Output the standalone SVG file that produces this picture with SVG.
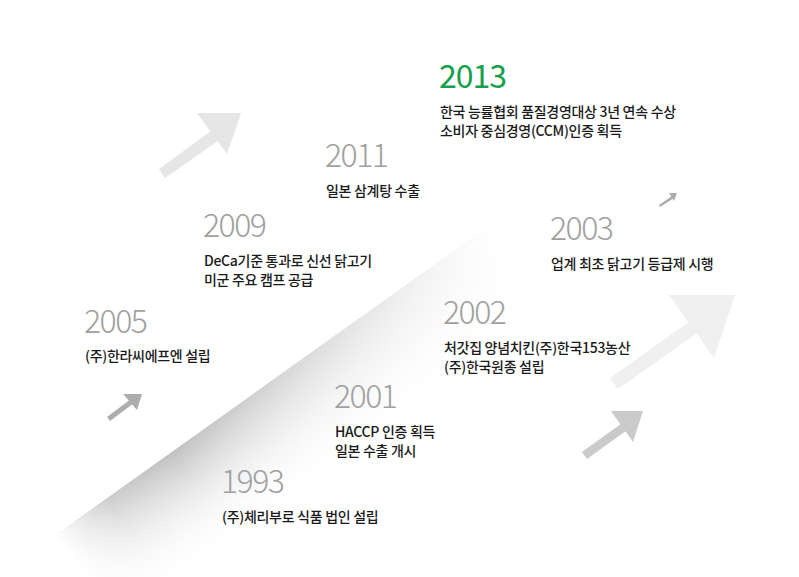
<svg xmlns="http://www.w3.org/2000/svg" width="799" height="577" viewBox="0 0 799 577">
<style>
.yr{font-family:"Noto Sans CJK KR","Noto Sans",sans-serif;font-size:32px;font-weight:200;fill:#a0a0a0;letter-spacing:-1.5px}
.yr13{font-family:"Noto Sans CJK KR","Noto Sans",sans-serif;font-size:32px;font-weight:400;fill:#17a04a;letter-spacing:-1px}
.ds{font-family:"Noto Sans CJK KR","Noto Sans",sans-serif;font-size:14px;font-weight:500;fill:#1a1a1a;letter-spacing:-0.3px}
</style>
<defs>
<linearGradient id="bandFill" x1="0" y1="0" x2="0" y2="1">
<stop offset="0" stop-color="#c0c0c0"/>
<stop offset="1" stop-color="#ffffff" stop-opacity="0"/>
</linearGradient>
<linearGradient id="bandFade" x1="0" y1="0" x2="1" y2="0">
<stop offset="0" stop-color="#fff" stop-opacity="0"/>
<stop offset="0.12" stop-color="#fff" stop-opacity="0.8"/>
<stop offset="0.27" stop-color="#fff" stop-opacity="1"/>
<stop offset="1" stop-color="#fff" stop-opacity="0"/>
</linearGradient>
<mask id="bandMask" maskContentUnits="userSpaceOnUse">
<rect x="0" y="0" width="530" height="110" fill="url(#bandFade)"/>
</mask>
</defs>
<rect width="799" height="577" fill="#fff"/>
<g id="band" transform="translate(55,535) rotate(-35.5)">
<rect x="0" y="0" width="530" height="110" fill="url(#bandFill)" mask="url(#bandMask)"/>
</g>
<g id="arrows">
<g id="arrow-a" fill="#e6e6e6">
<polygon points="159,169 165,178 222,138 215,128"/>
<polygon points="197,113 241,113 227,154"/>
</g>
<g id="arrow-b" fill="#f0f0f0">
<polygon points="610,378 618,389 697,333 689,322"/>
<polygon points="669,295 735,295 714,358"/>
</g>
<g id="arrow-c" fill="#cacaca">
<polygon points="582,452 587,459 630,428 625,421"/>
<polygon points="611,411 643,411 633,442"/>
</g>
<g id="arrow-d" fill="#adadad">
<polygon points="107,417 110,421 134,403 131,399"/>
<polygon points="123,394 142,394 137,410"/>
</g>
<g id="arrow-e" fill="#adadad">
<polygon points="659,205 660,207 674,198 672,196"/>
<polygon points="669,193 677,193 674,201"/>
</g>
</g>
<g id="y2013">
<text class="yr13" x="439" y="88">2013</text>
<text class="ds" x="440" y="117">한국 능률협회 품질경영대상 3년 연속 수상</text>
<text class="ds" x="440" y="136">소비자 중심경영(CCM)인증 획득</text>
</g>
<g id="y2011">
<text class="yr" x="325" y="167">2011</text>
<text class="ds" x="326" y="196">일본 삼계탕 수출</text>
</g>
<g id="y2009">
<text class="yr" x="203" y="237">2009</text>
<text class="ds" x="204" y="266">DeCa기준 통과로 신선 닭고기</text>
<text class="ds" x="204" y="285">미군 주요 캠프 공급</text>
</g>
<g id="y2005">
<text class="yr" x="84" y="333">2005</text>
<text class="ds" x="85" y="361">(주)한라씨에프엔 설립</text>
</g>
<g id="y2003">
<text class="yr" x="550" y="240">2003</text>
<text class="ds" x="551" y="269">업계 최초 닭고기 등급제 시행</text>
</g>
<g id="y2002">
<text class="yr" x="443" y="324">2002</text>
<text class="ds" x="444" y="353">처갓집 양념치킨(주)한국153농산</text>
<text class="ds" x="444" y="372">(주)한국원종 설립</text>
</g>
<g id="y2001">
<text class="yr" x="334" y="408">2001</text>
<text class="ds" x="335" y="437">HACCP 인증 획득</text>
<text class="ds" x="335" y="456">일본 수출 개시</text>
</g>
<g id="y1993">
<text class="yr" x="221" y="493">1993</text>
<text class="ds" x="222" y="522">(주)체리부로 식품 법인 설립</text>
</g>
</svg>
